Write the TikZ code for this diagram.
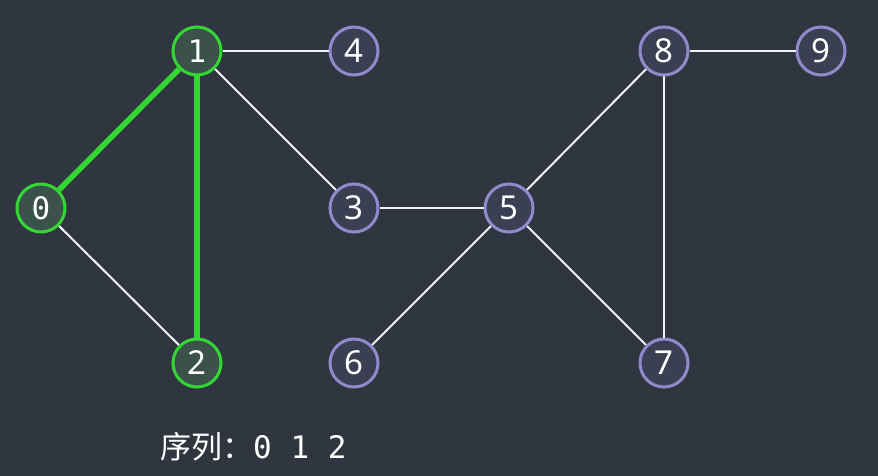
\documentclass[tikz,border=0pt]{standalone}
\usepackage{fontspec}
\setmainfont{Noto Sans}
\newfontfamily\monofont{DejaVu Sans Mono}
\newfontfamily\cjk{Noto Sans CJK SC}
\definecolor{bg}{HTML}{2F3640}
\definecolor{visitline}{HTML}{33D633}
\definecolor{visitfill}{HTML}{3A5249}
\definecolor{idleline}{HTML}{8E8ACC}
\definecolor{idlefill}{HTML}{3A3F52}
\definecolor{edge}{HTML}{F2F2F2}
\tikzset{
  vert/.style={circle, minimum size=48pt, inner sep=0pt, line width=3pt,
    text=white, font=\fontsize{33}{33}\selectfont},
  idle/.style={vert, draw=idleline, fill=idlefill},
  visited/.style={vert, draw=visitline, fill=visitfill},
  monolabel/.style={font=\monofont\fontsize{31}{31}\selectfont},
  plain/.style={draw=edge, line width=2pt},
  walked/.style={draw=visitline, line width=5.5pt},
}
\begin{document}
\begin{tikzpicture}[x=1pt,y=-1pt]
\fill[bg] (0,0) rectangle (878,476);
\useasboundingbox (0,0) rectangle (878,476);
% vertices
\node[visited, monolabel] (n0) at (41,208) {0};
\node[visited, monolabel] (n1) at (197,51) {1};
\node[visited] (n2) at (197,363) {2};
\node[idle] (n3) at (354,208) {3};
\node[idle] (n4) at (354,51) {4};
\node[idle] (n5) at (509,208) {5};
\node[idle] (n6) at (354,363) {6};
\node[idle] (n7) at (664,363) {7};
\node[idle] (n8) at (664,51) {8};
\node[idle] (n9) at (821,51) {9};
% edges
\draw[plain] (n0) -- (n2);
\draw[plain] (n1) -- (n4);
\draw[plain] (n1) -- (n3);
\draw[plain] (n3) -- (n5);
\draw[plain] (n5) -- (n6);
\draw[plain] (n5) -- (n7);
\draw[plain] (n5) -- (n8);
\draw[plain] (n8) -- (n7);
\draw[plain] (n8) -- (n9);
\draw[walked] (n0) -- (n1);
\draw[walked] (n1) -- (n2);
% traversal order
\node[anchor=base west, text=white, inner sep=0pt] (seq) at (160,458)
  {{\cjk\fontsize{31}{31}\selectfont 序列：}{\monofont\fontsize{31}{31}\selectfont 0 1 2}};
\end{tikzpicture}
\end{document}
